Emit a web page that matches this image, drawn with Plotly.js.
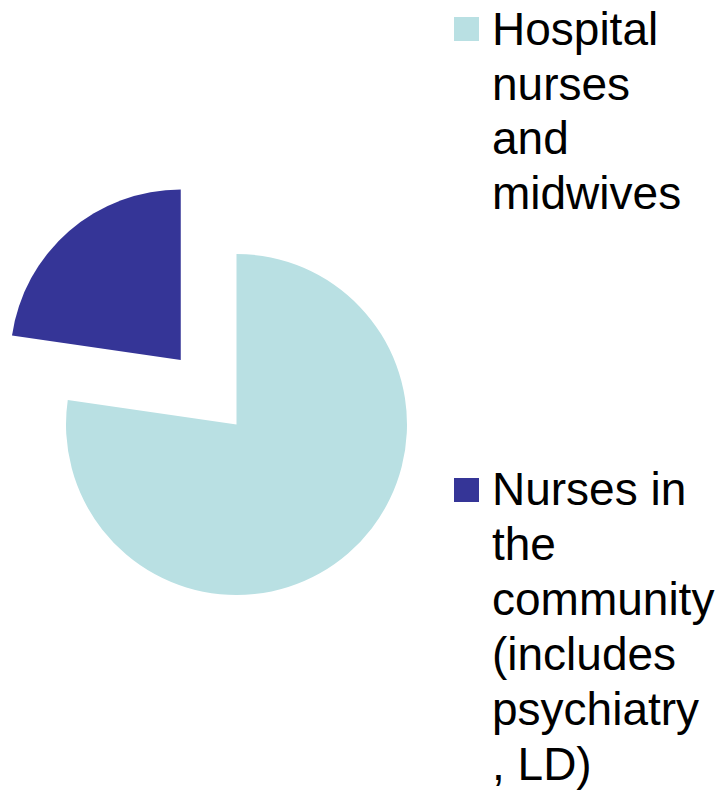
<!DOCTYPE html>
<html>
<head>
<meta charset="utf-8">
<script src="https://cdn.plot.ly/plotly-3.0.1.min.js"></script>
<style>
  html, body { margin: 0; padding: 0; overflow: hidden; background: #ffffff; width: 725px; height: 792px; }
  #chart { position: absolute; left: -40px; top: 0; width: 765px; height: 792px; }
</style>
</head>
<body>
<div id="chart"></div>
<script>
// ---- data ----
const categories = ['Hospital nurses and midwives', 'Nurses in the community (includes psychiatry, LD)'];
const shares = [77.3, 22.7];
const legendLines = [
  ['Hospital', 'nurses', 'and', 'midwives'],
  ['Nurses in', 'the', 'community', '(includes', 'psychiatry', ', LD)']
];
const sliceColors = ['#B9E0E3', '#353597'];
const slicePull = [0, 0.5];

// ---- layout helpers (screen px -> paper fractions) ----
const W = 765, H = 792, OFF = 40;
const px = x => (x + OFF) / W;
const py = y => (H - y) / H;

const cx = 236.5, cy = 424.5, r = 170.5;
const half = r * (1 + 0.5);

const fontSize = 46;
const legendX = 490;
const firstBaselines = [45, 505];
const lineStep = [54.5, 55];
const swatchTop = [17, 478];

const annotations = [];
const shapes = [];
legendLines.forEach((lines, i) => {
  lines.forEach((t, j) => {
    const base = firstBaselines[i] + j * lineStep[i];
    const center = base - 0.3465 * fontSize;
    annotations.push({
      xref: 'paper', yref: 'paper', x: px(legendX), y: py(center),
      xanchor: 'left', yanchor: 'middle', showarrow: false, text: t,
      font: { family: 'Liberation Sans, Arial, sans-serif', size: fontSize, color: '#000000' }
    });
  });
  shapes.push({
    type: 'rect', xref: 'paper', yref: 'paper',
    x0: px(454), x1: px(479), y0: py(swatchTop[i] + 24), y1: py(swatchTop[i]),
    fillcolor: sliceColors[i], line: { width: 0 }
  });
});

const trace = {
  type: 'pie',
  labels: categories,
  values: shares,
  pull: slicePull,
  sort: false,
  direction: 'clockwise',
  rotation: 0,
  textinfo: 'none',
  hoverinfo: 'none',
  showlegend: false,
  marker: { colors: sliceColors, line: { width: 0 } },
  domain: { x: [px(cx - half), px(cx + half)], y: [py(cy + half), py(cy - half)] }
};

const layout = {
  width: W, height: H,
  margin: { l: 0, r: 0, t: 0, b: 0 },
  paper_bgcolor: '#ffffff',
  showlegend: false,
  annotations: annotations,
  shapes: shapes
};

Plotly.newPlot('chart', [trace], layout, { displayModeBar: false, staticPlot: true });
</script>
</body>
</html>
